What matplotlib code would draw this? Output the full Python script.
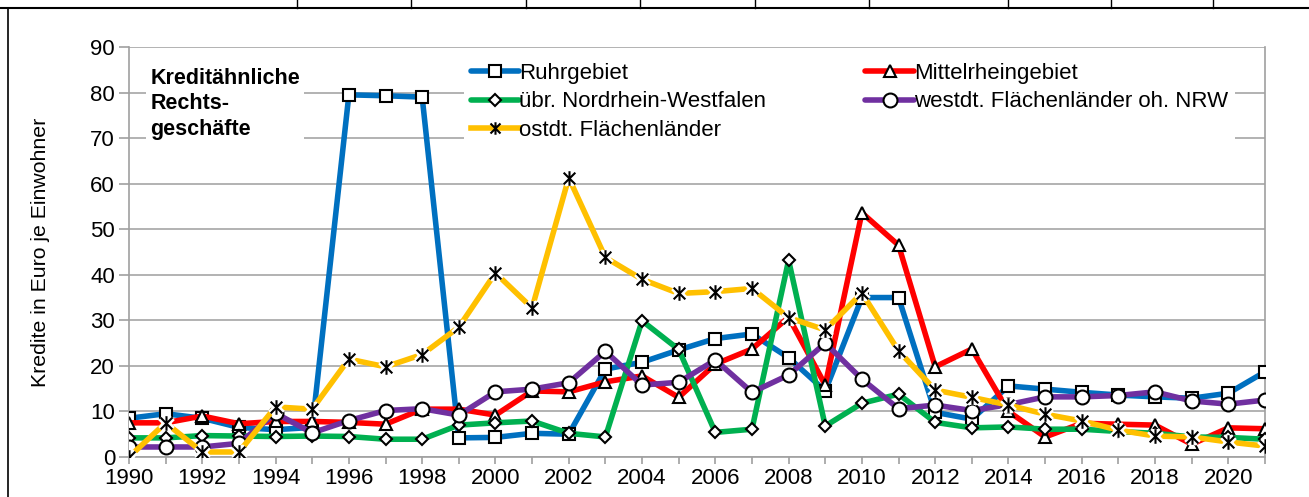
import matplotlib.pyplot as plt
from matplotlib.path import Path
from matplotlib.lines import Line2D


years = list(range(1990, 2022))

ruhr = [8.5, 9.5, 8.5, 6.5, 6.0, 6.5, 79.5, 79.3, 79.0, 4.2,
        4.3, 5.2, 5.0, 19.3, 20.8, 23.5, 26.0, 27.0, 21.8, 14.5,
        35.0, 35.0, 9.8, 8.3, 15.6, 14.9, 14.2, 13.6, 13.2, 12.9,
        14.0, 18.7]
mittelrhein = [7.5, 7.5, 9.0, 7.3, 7.8, 7.8, 7.6, 7.2, 10.5, 10.5,
               9.2, 14.5, 14.3, 16.5, 17.8, 13.1, 20.4, 23.7, 30.7, 15.8,
               53.6, 46.5, 19.8, 23.7, 10.0, 4.4, 7.4, 7.2, 7.0, 2.8,
               6.4, 6.2]
nrw_rest = [4.2, 4.2, 4.7, 4.6, 4.5, 4.6, 4.5, 3.9, 3.9, 7.0,
            7.5, 7.9, 5.2, 4.4, 29.9, 23.6, 5.4, 6.1, 43.2, 6.8,
            11.8, 13.8, 7.6, 6.4, 6.6, 6.1, 6.1, 5.6, 5.2, 4.4,
            4.3, 3.9]
west = [2.2, 2.2, 2.2, 3.0, 9.6, 5.3, 8.0, 10.2, 10.6, 9.2,
        14.3, 14.9, 16.3, 23.2, 15.8, 16.4, 21.3, 14.2, 18.0, 25.0,
        17.1, 10.6, 11.4, 10.2, 11.5, 13.2, 13.2, 13.5, 14.3, 12.3,
        11.6, 12.5]
ost = [0.0, 7.5, 1.1, 1.1, 11.0, 10.5, 21.5, 19.8, 22.5, 28.5,
       40.4, 32.7, 61.3, 43.8, 39.0, 35.9, 36.3, 37.0, 30.6, 27.9,
       36.0, 23.3, 14.7, 13.1, 11.4, 9.4, 7.9, 5.9, 4.6, 4.4,
       3.3, 2.4]

labels = ["Ruhrgebiet", "Mittelrheingebiet", "übr. Nordrhein-Westfalen",
          "westdt. Flächenländer oh. NRW", "ostdt. Flächenländer"]
colors = ["#0070C0", "#FF0000", "#00B050", "#7030A0", "#FFC000"]

plt.rcParams['font.family'] = ['Liberation Sans', 'DejaVu Sans']

# star marker: an X with a vertical bar through it
star = Path([(-1, -1), (1, 1), (-1, 1), (1, -1), (0, -1.25), (0, 1.25)],
            [Path.MOVETO, Path.LINETO, Path.MOVETO, Path.LINETO, Path.MOVETO, Path.LINETO])

fig = plt.figure(figsize=(13.09, 4.97), dpi=100)
ax = fig.add_axes([129 / 1309, 1 - 457 / 497, 1136 / 1309, 410 / 497])

lw = 4.0
mew = 1.5
common = dict(linewidth=lw, markerfacecolor="white", markeredgecolor="black",
              markeredgewidth=mew, solid_joinstyle="round", solid_capstyle="round")

h_ruhr, = ax.plot(years, ruhr, color=colors[0], marker="s", markersize=9, zorder=3, **common)
h_mr, = ax.plot(years, mittelrhein, color=colors[1], marker="^", markersize=9, zorder=4, **common)
h_nrw, = ax.plot(years, nrw_rest, color=colors[2], marker="D", markersize=6.5, zorder=5, **common)
h_west, = ax.plot(years, west, color=colors[3], marker="o", markersize=10, zorder=6, **common)

# the eastern series gets a white halo under its star markers
ax.plot(years, ost, color=colors[4], linewidth=lw, solid_joinstyle="round", zorder=7)
ax.plot(years, ost, linestyle="none", marker=star, markersize=10.5, markerfacecolor="none",
        markeredgecolor="white", markeredgewidth=5, zorder=8)
ax.plot(years, ost, linestyle="none", marker=star, markersize=10.5, markerfacecolor="none",
        markeredgecolor="black", markeredgewidth=mew, zorder=9)
h_ost = Line2D([], [], color=colors[4], linewidth=lw, marker=star, markersize=9,
               markerfacecolor="none", markeredgecolor="black", markeredgewidth=mew)

# axes, ticks and grid
ax.set_xlim(1990, 2021)
ax.set_ylim(0, 90)
ax.set_yticks(range(0, 91, 10))
ax.set_xticks(range(1990, 2021, 2))
ax.set_xticks(range(1991, 2022, 2), minor=True)
ax.yaxis.grid(True, color="#A6A6A6", linewidth=1.2, zorder=0)
ax.set_axisbelow(True)
for side in ["left", "right", "top", "bottom"]:
    ax.spines[side].set_color("#A0A0A0")
    ax.spines[side].set_linewidth(1.2)
ax.spines["top"].set_visible(False)
ax.tick_params(axis="both", which="both", direction="out", color="#A0A0A0", width=1.2,
               labelsize=16, labelcolor="black")
ax.tick_params(axis="x", which="both", length=5, pad=3)
ax.tick_params(axis="y", length=7, pad=3)
ax.set_ylabel("Kredite in Euro je Einwohner", fontsize=15.3, labelpad=29)

# legend in two columns on a white box
leg = ax.legend([h_ruhr, h_nrw, h_ost, h_mr, h_west],
                [labels[0], labels[2], labels[4], labels[1], labels[3]],
                ncol=2, loc="upper left", bbox_to_anchor=(0.285, 1.004),
                fontsize=16, frameon=True, framealpha=1, edgecolor="none",
                handlelength=2.2, handletextpad=0.0, labelspacing=0.33,
                columnspacing=4.45, borderpad=0.3)
leg.set_zorder(10)

# title box in the upper left
ax.text(0.019, 0.95, "Kreditähnliche\nRechts-\ngeschäfte", transform=ax.transAxes,
        fontsize=15.5, fontweight="bold", va="top", ha="left", linespacing=1.3,
        bbox=dict(facecolor="white", edgecolor="none", pad=3), zorder=10)

# page frame lines around the chart
fig.add_artist(Line2D([0, 1], [1 - 8 / 497, 1 - 8 / 497], color="black", linewidth=1.5))
fig.add_artist(Line2D([8 / 1309, 8 / 1309], [0, 1 - 8 / 497], color="black", linewidth=1.2))
for xp in [297, 411, 526, 640, 755, 869, 1008, 1111, 1213]:
    fig.add_artist(Line2D([xp / 1309, xp / 1309], [1 - 8 / 497, 1], color="black", linewidth=1.0))

fig.savefig("out.png", dpi=100)
